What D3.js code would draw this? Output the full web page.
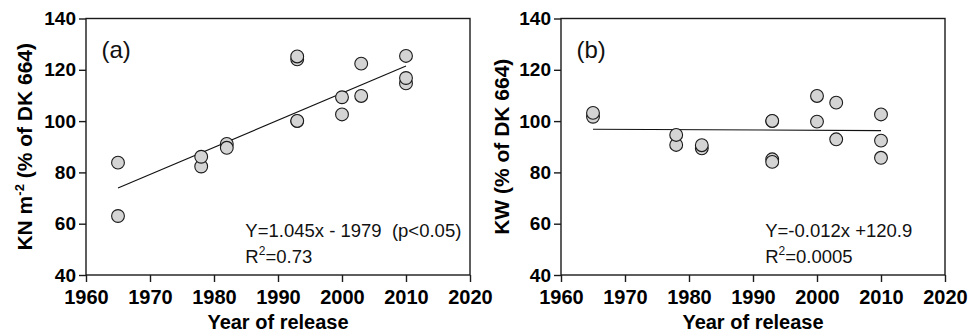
<!DOCTYPE html>
<html>
<head>
<meta charset="utf-8">
<script src="https://cdn.jsdelivr.net/npm/d3@7"></script>
<style>
  html, body { margin: 0; padding: 0; background: #fff; }
  svg { display: block; font-family: "Liberation Sans", Arial, sans-serif; }
</style>
</head>
<body>
<svg id="chart" width="970" height="336"></svg>
<script>
// ---- data ----
const xTicks = [1960, 1970, 1980, 1990, 2000, 2010, 2020];
const yTicks = [40, 60, 80, 100, 120, 140];

const yearsA = [1965, 1965, 1978, 1978, 1982, 1982, 1993, 1993, 1993, 1993, 2000, 2000, 2003, 2003, 2010, 2010, 2010];
const knValues = [83.8, 63.0, 82.3, 86.1, 91.1, 89.6, 124.1, 125.2, 100.0, 100.1, 109.3, 102.6, 122.4, 109.8, 125.4, 114.7, 116.8];
const fitA = [[1965, 73.9], [2010, 121.5]];

const yearsB = [1965, 1965, 1978, 1978, 1982, 1982, 1993, 1993, 1993, 1993, 2000, 2000, 2003, 2003, 2010, 2010, 2010];
const kwValues = [101.7, 103.2, 90.7, 94.6, 89.4, 90.6, 100.0, 100.1, 85.1, 84.1, 109.8, 99.8, 107.2, 92.9, 102.6, 92.4, 85.7];
const fitB = [[1965, 96.8], [2010, 96.3]];

const panels = [
  { left: 86, label: "(a)", years: yearsA, values: knValues, fit: fitA,
    eq: "Y=1.045x - 1979\u00A0\u00A0(p<0.05)", r2: "=0.73", eqX: 1984.9,
    yTitle: [["KN m", 0], ["-2", 1], [" (% of DK 664)", 0]], yTitleX: 32 },
  { left: 561, label: "(b)", years: yearsB, values: kwValues, fit: fitB,
    eq: "Y=-0.012x +120.9", r2: "=0.0005", eqX: 1991.9,
    yTitle: [["KW (% of DK 664)", 0]], yTitleX: 509 }
];

const svg = d3.select("#chart");
const plotTop = 18.5, plotBottom = 275, plotW = 384;

panels.forEach(p => {
  const x = d3.scaleLinear().domain([1960, 2020]).range([p.left, p.left + plotW]);
  const y = d3.scaleLinear().domain([40, 140]).range([plotBottom, plotTop]);
  const g = svg.append("g");

  // frame
  g.append("rect")
    .attr("x", x(1960)).attr("y", y(140))
    .attr("width", x(2020) - x(1960)).attr("height", y(40) - y(140))
    .attr("fill", "none").attr("stroke", "#1a1a1a").attr("stroke-width", 1.4);

  // axes
  const ax = g.append("g").attr("transform", `translate(0,${plotBottom})`)
    .call(d3.axisBottom(x).tickValues(xTicks).tickFormat(d3.format("d"))
      .tickSize(7).tickSizeOuter(0).tickPadding(8));
  ax.select(".domain").remove();
  ax.selectAll("line").attr("stroke", "#1a1a1a").attr("stroke-width", 1.4);
  ax.selectAll("text").attr("font-size", 20).attr("font-weight", "bold")
    .attr("fill", "#000").attr("font-family", "Liberation Sans, Arial, sans-serif");

  const ay = g.append("g").attr("transform", `translate(${p.left},0)`)
    .call(d3.axisLeft(y).tickValues(yTicks).tickSize(7).tickSizeOuter(0).tickPadding(3));
  ay.select(".domain").remove();
  ay.selectAll("line").attr("stroke", "#1a1a1a").attr("stroke-width", 1.4);
  ay.selectAll("text").attr("font-size", 19).attr("font-weight", "bold")
    .attr("fill", "#000").attr("font-family", "Liberation Sans, Arial, sans-serif");

  // titles
  g.append("text")
    .attr("x", (x(1960) + x(2020)) / 2).attr("y", 329)
    .attr("text-anchor", "middle").attr("font-size", 20).attr("font-weight", "bold")
    .attr("fill", "#000").text("Year of release");

  const yt = g.append("text")
    .attr("transform", `translate(${p.yTitleX},${(plotTop + plotBottom) / 2}) rotate(-90)`)
    .attr("text-anchor", "middle").attr("font-size", 21).attr("font-weight", "bold")
    .attr("fill", "#000");
  p.yTitle.forEach((s, i) => {
    const t = yt.append("tspan").text(s[0]);
    if (s[1]) t.attr("font-size", 13).attr("dy", -8);
    else if (i > 0) t.attr("dy", 8);
  });

  // panel label
  g.append("text").attr("x", p.left + 15.5).attr("y", 58)
    .attr("font-size", 24).attr("fill", "#111").text(p.label);

  // fit line
  g.append("path")
    .attr("d", d3.line().x(d => x(d[0])).y(d => y(d[1]))(p.fit))
    .attr("fill", "none").attr("stroke", "#111").attr("stroke-width", 1.1);

  // points
  g.selectAll("circle.pt").data(p.years.map((yr, i) => [yr, p.values[i]]))
    .join("circle").attr("class", "pt")
    .attr("cx", d => x(d[0])).attr("cy", d => y(d[1])).attr("r", 6.4)
    .attr("fill", "#d4d4d4").attr("stroke", "#1a1a1a").attr("stroke-width", 1.1);

  // annotation
  g.append("text").attr("x", x(p.eqX)).attr("y", 236.5)
    .attr("font-size", 18.5).attr("fill", "#111").text(p.eq);
  const r = g.append("text").attr("x", x(p.eqX)).attr("y", 262.5)
    .attr("font-size", 18.5).attr("fill", "#111");
  r.append("tspan").text("R");
  r.append("tspan").attr("font-size", 12).attr("dy", -7.5).text("2");
  r.append("tspan").attr("dy", 7.5).text(p.r2);
});
</script>
</body>
</html>
